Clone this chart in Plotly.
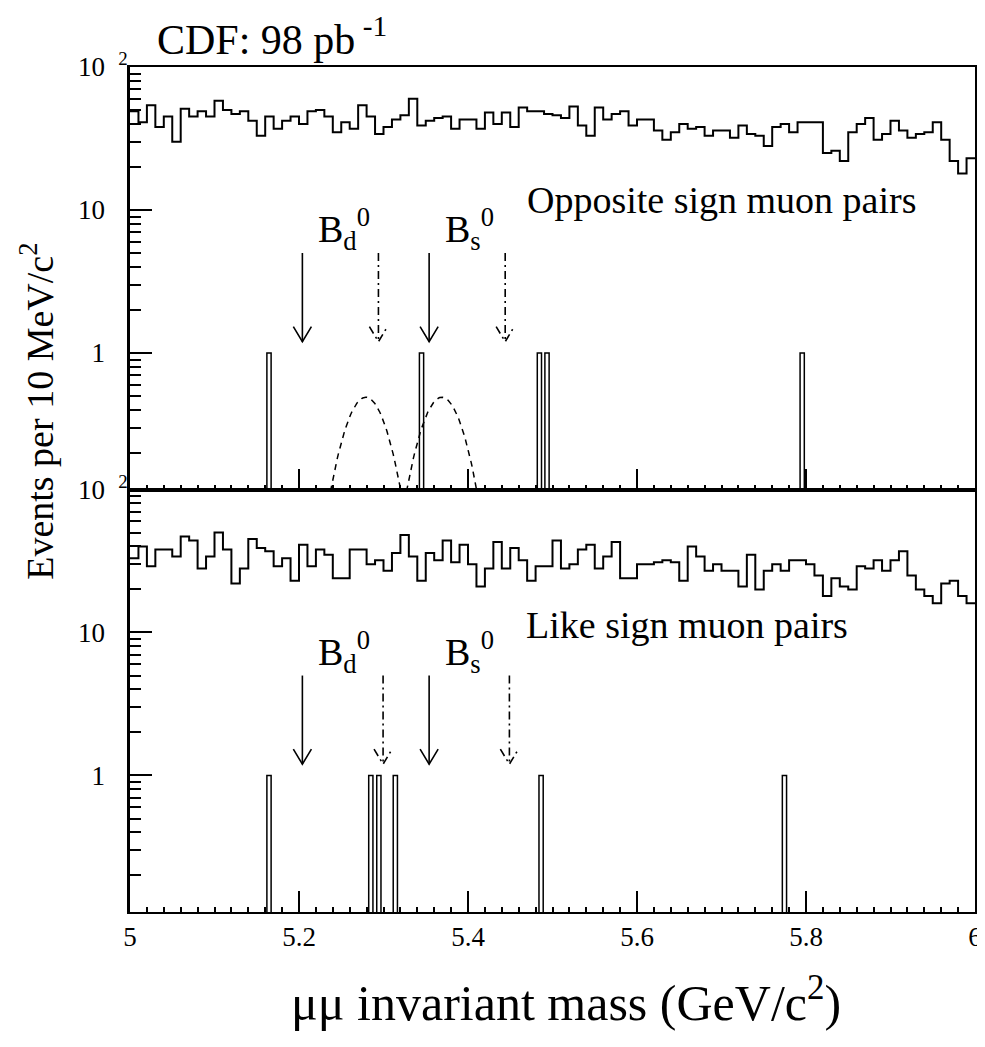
import numpy as np
import plotly.graph_objects as go

# ---------------- data ----------------
mass_lo, mass_hi, bin_width = 5.0, 6.0, 0.01
n_bins = 100
bin_edges = mass_lo + bin_width * np.arange(n_bins + 1)

opposite_counts = [49, 41, 54, 38, 45, 30, 51, 45, 49, 45, 58, 50, 47, 49, 42, 33, 45, 37, 42, 45,
                   40, 49, 50, 45, 35, 41, 37, 54, 45, 34, 38, 43, 46, 60, 39, 42, 44, 45, 37, 43,
                   43, 37, 48, 40, 48, 38, 52, 49, 49, 47, 46, 44, 53, 39, 33, 52, 43, 47, 49, 39,
                   43, 43, 36, 31, 35, 40, 37, 38, 33, 36, 36, 32, 39, 34, 33, 28, 38, 40, 35, 41,
                   41, 41, 25, 26, 22, 35, 40, 44, 31, 34, 42, 36, 32, 34, 35, 41, 31, 22, 18, 23]

like_counts = [33, 40, 29, 38, 38, 34, 47, 44, 28, 34, 50, 38, 22, 28, 45, 39, 37, 29, 33, 23,
               41, 29, 38, 35, 24, 24, 38, 38, 30, 32, 27, 36, 48, 34, 23, 36, 32, 44, 31, 41,
               30, 21, 28, 43, 28, 39, 32, 23, 29, 29, 44, 28, 30, 38, 41, 28, 34, 43, 24, 24,
               30, 30, 31, 32, 31, 23, 40, 34, 27, 30, 27, 27, 21, 35, 20, 27, 30, 27, 32, 32,
               30, 25, 18, 24, 21, 20, 29, 28, 32, 27, 32, 37, 25, 20, 18, 16, 22, 23, 18, 16]

# candidate events in the search region (one entry each)
opposite_events = [5.1645, 5.345, 5.4845, 5.4935, 5.7955]
opposite_event_counts = [1, 1, 1, 1, 1]
like_events = [5.1645, 5.285, 5.2945, 5.314, 5.4865, 5.7745]
like_event_counts = [1, 1, 1, 1, 1, 1]
event_bin_width = 0.005

# expected signal shapes (Gaussian model parameters)
signal_means = [5.279, 5.369]
signal_sigma = 0.024
signal_peak = 0.49

# search-window arrows
top_solid_arrows = [5.204, 5.354]
top_dashdot_arrows = [5.294, 5.444]
bottom_solid_arrows = [5.204, 5.354]
bottom_dashdot_arrows = [5.2995, 5.449]
arrow_start, arrow_tip = 5.0, 1.2

x_major_ticks = [5.0, 5.2, 5.4, 5.6, 5.8, 6.0]
x_major_labels = ["5", "5.2", "5.4", "5.6", "5.8", "6"]
x_mid_ticks = [5.1, 5.3, 5.5, 5.7, 5.9]
y_major_ticks = [1, 10, 100]
y_major_labels = ["1<sup>\u2002\u2009\u2007</sup>", "10<sup>\u2002\u2009\u2007</sup>", "10<sup>\u2002\u20092</sup>"]
y_minor_ticks = [0.2, 0.3, 0.4, 0.5, 0.6, 0.7, 0.8, 0.9,
                 2, 3, 4, 5, 6, 7, 8, 9, 20, 30, 40, 50, 60, 70, 80, 90]
y_min, y_max = 0.111, 100

# ---------------- style ----------------
FONT = "Liberation Serif, Times New Roman, serif"
BLACK = "black"
HEAD_DX = 0.0107       # arrowhead half-width (GeV)
HEAD_FACTOR = 1.273    # arrowhead height (multiplicative on log axis)
PAGE_OFFSET = 8        # default body margin of the html page

fig = go.Figure()


def add_panel(counts, events, event_counts, solid, dashdot, xa, ya, with_signal):
    xs = list(bin_edges)
    ys = list(counts) + [counts[-1]]
    fig.add_trace(go.Scatter(x=xs, y=ys, mode="lines", xaxis=xa, yaxis=ya,
                             line=dict(shape="hv", color=BLACK, width=2), hoverinfo="skip"))
    fig.add_trace(go.Bar(x=events, y=event_counts, width=event_bin_width, xaxis=xa, yaxis=ya,
                         marker=dict(color="rgba(0,0,0,0)", line=dict(color=BLACK, width=1.5))))
    if with_signal:
        for m in signal_means:
            gx = np.linspace(m - 3 * signal_sigma, m + 3 * signal_sigma, 121)
            gy = signal_peak * np.exp(-0.5 * ((gx - m) / signal_sigma) ** 2)
            fig.add_trace(go.Scatter(x=gx, y=gy, mode="lines", xaxis=xa, yaxis=ya,
                                     line=dict(color=BLACK, width=1.5, dash="6px,5px")))
    for arr, dash in ((solid, "solid"), (dashdot, "8px,4px,2px,4px")):
        for a in arr:
            fig.add_trace(go.Scatter(
                x=[a, a, None, a - HEAD_DX, a, a + HEAD_DX],
                y=[arrow_start, arrow_tip, None, arrow_tip * HEAD_FACTOR, arrow_tip, arrow_tip * HEAD_FACTOR],
                mode="lines", xaxis=xa, yaxis=ya,
                line=dict(color=BLACK, width=1.6, dash=dash)))


add_panel(opposite_counts, opposite_events, opposite_event_counts,
          top_solid_arrows, top_dashdot_arrows, "x", "y", True)
add_panel(like_counts, like_events, like_event_counts,
          bottom_solid_arrows, bottom_dashdot_arrows, "x2", "y2", False)

tick_font = dict(family=FONT, size=27, color=BLACK)

xcommon = dict(range=[mass_lo, mass_hi], showline=True, linecolor=BLACK, linewidth=2, mirror=True,
               ticks="inside", tickmode="array", tickvals=x_major_ticks, ticktext=x_major_labels,
               ticklen=21, tickwidth=1.5, tickcolor=BLACK,
               minor=dict(ticks="inside", dtick=0.02, tick0=5.0, ticklen=5, tickwidth=1.5, tickcolor=BLACK),
               showgrid=False, zeroline=False, tickfont=tick_font, automargin=False)
xmid = dict(range=[mass_lo, mass_hi], showline=False, ticks="inside", tickmode="array",
            tickvals=x_mid_ticks, ticklen=10, tickwidth=1.5, tickcolor=BLACK,
            showticklabels=False, showgrid=False, zeroline=False, automargin=False)
ycommon = dict(type="log", range=[np.log10(y_min), np.log10(y_max)], showline=True, linecolor=BLACK,
               linewidth=2.7, mirror=True, ticks="inside", tickmode="array", tickvals=y_major_ticks,
               ticktext=y_major_labels, ticklen=22, tickwidth=1.5, tickcolor=BLACK, ticklabelstandoff=-6,
               minor=dict(ticks="inside", tickmode="array", tickvals=y_minor_ticks, ticklen=11,
                          tickwidth=1.5, tickcolor=BLACK),
               showgrid=False, zeroline=False, tickfont=tick_font, automargin=False)

fig.update_layout(
    width=985 - PAGE_OFFSET, height=1047 - PAGE_OFFSET,
    margin=dict(l=129.5 - PAGE_OFFSET, r=10, t=67 - PAGE_OFFSET, b=135),
    paper_bgcolor="white", plot_bgcolor="white",
    showlegend=False, barmode="overlay",
    font=dict(family=FONT, color=BLACK),
    xaxis=dict(xcommon, anchor="y", showticklabels=False),
    yaxis=dict(ycommon, domain=[0.5, 1.0], anchor="x"),
    xaxis2=dict(xcommon, anchor="y2"),
    yaxis2=dict(ycommon, domain=[0.0, 0.5], anchor="x2"),
    xaxis3=dict(xmid, overlaying="x", anchor="y"),
    xaxis4=dict(xmid, overlaying="x2", anchor="y2"),
)

label_font = dict(family=FONT, size=38, color=BLACK)
annotations = [
    dict(text="CDF: 98 pb<sup> -1</sup>", x=0.03, y=1.036, xref="paper", yref="paper",
         xanchor="left", yanchor="middle", showarrow=False, font=dict(family=FONT, size=42, color=BLACK)),
    dict(text="\u03bc\u03bc invariant mass (GeV/c<sup>2</sup>)", x=0.516, y=-0.103, xref="paper", yref="paper",
         xanchor="center", yanchor="middle", showarrow=False, font=dict(family=FONT, size=50, color=BLACK)),
    dict(text="Events per 10 MeV/c<sup>2</sup>", x=-0.11, y=0.592, xref="paper", yref="paper",
         xanchor="center", yanchor="middle", textangle=-90, showarrow=False,
         font=dict(family=FONT, size=38, color=BLACK)),
    dict(text="Opposite sign muon pairs", x=0.468, y=0.8426, xref="paper", yref="paper",
         xanchor="left", yanchor="middle", showarrow=False, font=label_font),
    dict(text="Like sign muon pairs", x=0.466, y=0.3396, xref="paper", yref="paper",
         xanchor="left", yanchor="middle", showarrow=False, font=label_font),
]
for yp in (0.808, 0.3075):
    for xm, sub in ((5.2205, "d"), (5.3705, "s")):
        annotations.append(dict(text=f"B<sub>{sub}</sub><sup>0</sup>", x=xm, y=yp, xref="x2", yref="paper",
                                xanchor="left", yanchor="middle", showarrow=False, font=label_font))
fig.update_layout(annotations=annotations)

fig.write_html("out.html")
